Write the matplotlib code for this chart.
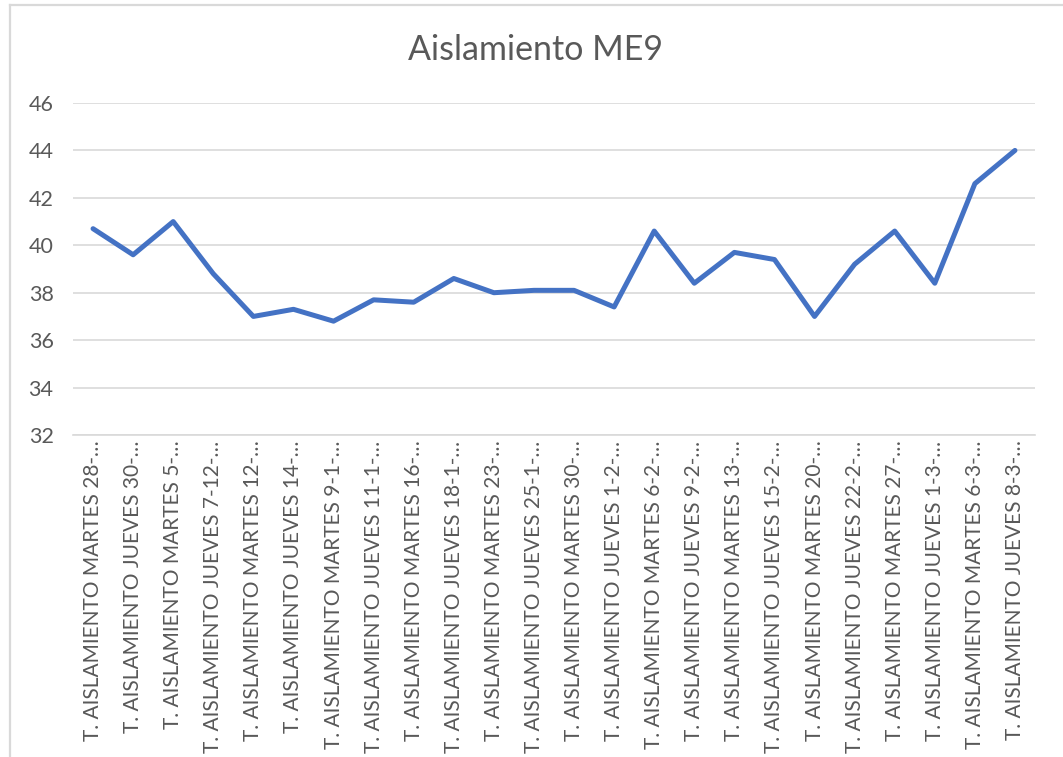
import matplotlib
matplotlib.use("Agg")
import matplotlib.pyplot as plt
from matplotlib.lines import Line2D

categories = [
    "T. AISLAMIENTO MARTES 28-…",
    "T. AISLAMIENTO JUEVES 30-…",
    "T. AISLAMIENTO MARTES 5-…",
    "T. AISLAMIENTO JUEVES 7-12-…",
    "T. AISLAMIENTO MARTES 12-…",
    "T. AISLAMIENTO JUEVES 14-…",
    "T. AISLAMIENTO MARTES 9-1-…",
    "T. AISLAMIENTO JUEVES 11-1-…",
    "T. AISLAMIENTO MARTES 16-…",
    "T. AISLAMIENTO JUEVES 18-1-…",
    "T. AISLAMIENTO MARTES 23-…",
    "T. AISLAMIENTO JUEVES 25-1-…",
    "T. AISLAMIENTO MARTES 30-…",
    "T. AISLAMIENTO JUEVES 1-2-…",
    "T. AISLAMIENTO MARTES 6-2-…",
    "T. AISLAMIENTO JUEVES 9-2-…",
    "T. AISLAMIENTO MARTES 13-…",
    "T. AISLAMIENTO JUEVES 15-2-…",
    "T. AISLAMIENTO MARTES 20-…",
    "T. AISLAMIENTO JUEVES 22-2-…",
    "T. AISLAMIENTO MARTES 27-…",
    "T. AISLAMIENTO JUEVES 1-3-…",
    "T. AISLAMIENTO MARTES 6-3-…",
    "T. AISLAMIENTO JUEVES 8-3-…",
]
values = [40.7, 39.6, 41.0, 38.8, 37.0, 37.3, 36.8, 37.7, 37.6, 38.6, 38.0, 38.1,
          38.1, 37.4, 40.6, 38.4, 39.7, 39.4, 37.0, 39.2, 40.6, 38.4, 42.6, 44.0]
yticks = [32, 34, 36, 38, 40, 42, 44, 46]
title = "Aislamiento ME9"

plt.rcParams['font.family'] = ['Lato', 'DejaVu Sans']

W, H = 1063, 757
fig = plt.figure(figsize=(W / 100, H / 100), dpi=100)
fig.patch.set_facecolor('white')

# chart border (top and left edges visible; the rest lies outside the image)
fig.lines.append(Line2D([10 / W, 1.01], [1 - 5 / H, 1 - 5 / H], transform=fig.transFigure,
                        color='#D9D9D9', linewidth=1.6))
fig.lines.append(Line2D([10 / W, 10 / W], [1 - 5 / H, -0.01], transform=fig.transFigure,
                        color='#D9D9D9', linewidth=1.6))

ax = fig.add_axes([73 / W, 1 - 435 / H, (1035 - 73) / W, (435 - 103) / H])
x = list(range(len(categories)))
ax.plot(x, values, color='#4472C4', linewidth=3.6, solid_capstyle='round', solid_joinstyle='round', zorder=3)

ax.set_xlim(-0.5, len(categories) - 0.5)
ax.set_ylim(32, 46)
ax.set_yticks(yticks)
ax.set_yticklabels([str(t) for t in yticks], fontsize=15.5, color='#595959')
ax.set_xticks(x)
ax.set_xticklabels(categories, rotation=90, fontsize=15, color='#595959', va='top', ha='center')
ax.tick_params(axis='x', length=0, pad=4)
ax.tick_params(axis='y', length=0, pad=14)
ax.grid(axis='y', color='#D9D9D9', linewidth=1.2)
ax.set_axisbelow(True)
for s in ['top', 'right', 'left']:
    ax.spines[s].set_visible(False)
ax.spines['bottom'].set_color('#D9D9D9')
ax.spines['bottom'].set_linewidth(1.2)

fig.text(535 / W, 1 - 50 / H, title, fontsize=24.5, color='#595959', ha='center', va='center')

fig.savefig('out.png', dpi=100, facecolor='white')
